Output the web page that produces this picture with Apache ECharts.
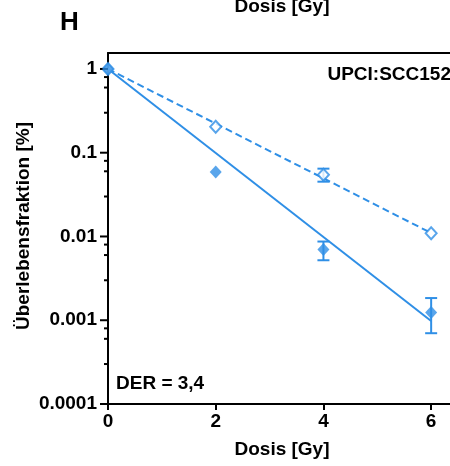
<!DOCTYPE html>
<html>
<head>
<meta charset="utf-8">
<script src="https://cdn.jsdelivr.net/npm/echarts@6/dist/echarts.min.js"></script>
<style>
  html, body { margin: 0; padding: 0; background: #fff; }
  #chart { width: 450px; height: 466px; }
</style>
</head>
<body>
<div id="chart"></div>
<script>
// Dose (Gy) and surviving fractions
const doses = [0, 2, 4, 6];
const survivalA = [1, 0.059, 0.0070, 0.00124];          // filled diamonds
const survivalAErrLow = [null, null, 0.0052, 0.00070];
const survivalAErrHigh = [null, null, 0.0087, 0.00184];
const survivalB = [1, 0.204, 0.0547, 0.0109];           // open diamonds
const survivalBErrLow = [null, null, 0.0451, null];
const survivalBErrHigh = [null, null, 0.0645, null];

// Fitted curves (start / end dose)
const fitDoses = [0, 6];
const fitA = [1, 0.00098];
const fitB = [1, 0.011];

// Axis ticks
const xTicks = [0, 2, 4, 6];
const majorTicks = [1, 0.1, 0.01, 0.001, 0.0001];
const minorFactors = [0.8, 0.6, 0.3];

const BLUE = '#2f8fe6';
const FONT = '"Liberation Sans", Arial, Helvetica, sans-serif';
const FS = 19;
const X_MAX = 6.35;

const pairs = (xs, ys) => xs.map((x, i) => [x, ys[i]]);
const errRows = (xs, lo, hi) => xs.map((x, i) => [x, lo[i], hi[i]]).filter(r => r[1] != null);

const minorTicks = [];
majorTicks.forEach(m => { if (m > 0.0001 + 1e-12) minorFactors.forEach(f => minorTicks.push(m * f)); });
const tickRows = majorTicks.map(v => [v, 8]).concat(minorTicks.map(v => [v, 4]));

function errorBar(params, api) {
  const x = api.value(0);
  const lo = api.coord([x, api.value(1)]);
  const hi = api.coord([x, api.value(2)]);
  const hw = 6;
  const style = { stroke: BLUE, lineWidth: 2, fill: null };
  return {
    type: 'group',
    children: [
      { type: 'line', shape: { x1: lo[0], y1: lo[1], x2: hi[0], y2: hi[1] }, style },
      { type: 'line', shape: { x1: lo[0] - hw, y1: lo[1], x2: lo[0] + hw, y2: lo[1] }, style },
      { type: 'line', shape: { x1: hi[0] - hw, y1: hi[1], x2: hi[0] + hw, y2: hi[1] }, style }
    ]
  };
}

function yTick(params, api) {
  const p = api.coord([0, api.value(0)]);
  const len = api.value(1);
  return {
    type: 'line',
    shape: { x1: p[0] - len, y1: p[1], x2: p[0], y2: p[1] },
    style: { stroke: '#000', lineWidth: 2 }
  };
}

const chart = echarts.init(document.getElementById('chart'), null, { renderer: 'canvas' });

chart.setOption({
  animation: false,
  backgroundColor: '#fff',
  grid: { left: 108, top: 53, right: 0, bottom: 62 },
  xAxis: [
    {
      type: 'value', min: 0, max: X_MAX, interval: 2,
      axisLine: { lineStyle: { color: '#000', width: 2 } },
      axisTick: { length: 6, customValues: xTicks, lineStyle: { color: '#000', width: 2 } },
      axisLabel: { color: '#000', fontFamily: FONT, fontWeight: 'bold', fontSize: FS, margin: 8, customValues: xTicks },
      splitLine: { show: false }
    },
    {
      // top frame line
      type: 'value', position: 'top', min: 0, max: X_MAX,
      axisLine: { show: true, lineStyle: { color: '#000', width: 2 } },
      axisTick: { show: false }, axisLabel: { show: false }, splitLine: { show: false }
    }
  ],
  yAxis: {
    type: 'log', logBase: 10, min: 0.0001, max: 1.55, interval: 1,
    axisLine: { lineStyle: { color: '#000', width: 2 } },
    axisTick: { show: false },
    axisLabel: {
      color: '#000', fontFamily: FONT, fontWeight: 'bold', fontSize: FS, margin: 11,
      showMaxLabel: false,
      formatter: v => {
        const e = Math.round(Math.log10(v));
        return e >= 0 ? '1' : Math.pow(10, e).toFixed(-e);
      }
    },
    splitLine: { show: false },
    minorSplitLine: { show: false }
  },
  graphic: [
    { type: 'text', left: 60, top: 10, style: { text: 'H', font: 'bold 26px ' + FONT, fill: '#000' } },
    { type: 'text', x: 282, y: -3, style: { text: 'Dosis [Gy]', font: 'bold ' + FS + 'px ' + FONT, fill: '#000', textAlign: 'center', textVerticalAlign: 'top' } },
    { type: 'text', x: 282, y: 440, style: { text: 'Dosis [Gy]', font: 'bold ' + FS + 'px ' + FONT, fill: '#000', textAlign: 'center', textVerticalAlign: 'top' } },
    { type: 'text', x: 24, y: 226, rotation: Math.PI / 2, style: { text: 'Überlebensfraktion [%]', font: 'bold ' + FS + 'px ' + FONT, fill: '#000', textAlign: 'center', textVerticalAlign: 'middle' } },
    { type: 'text', x: 451, y: 65, style: { text: 'UPCI:SCC152', font: 'bold ' + FS + 'px ' + FONT, fill: '#000', textAlign: 'right', textVerticalAlign: 'top' } },
    { type: 'text', x: 116, y: 374, style: { text: 'DER = 3,4', font: 'bold ' + FS + 'px ' + FONT, fill: '#000', textAlign: 'left', textVerticalAlign: 'top' } }
  ],
  series: [
    {
      type: 'custom', name: 'yTicks', coordinateSystem: 'cartesian2d',
      renderItem: yTick, data: tickRows, silent: true, clip: false, z: 5
    },
    {
      type: 'line', name: 'fitB', data: pairs(fitDoses, fitB), showSymbol: false,
      lineStyle: { color: BLUE, width: 2, type: [7, 4] }, z: 2
    },
    {
      type: 'line', name: 'fitA', data: pairs(fitDoses, fitA), showSymbol: false,
      lineStyle: { color: BLUE, width: 2 }, z: 2
    },
    {
      type: 'custom', name: 'errB', coordinateSystem: 'cartesian2d',
      renderItem: errorBar, data: errRows(doses, survivalBErrLow, survivalBErrHigh), z: 3
    },
    {
      type: 'custom', name: 'errA', coordinateSystem: 'cartesian2d',
      renderItem: errorBar, data: errRows(doses, survivalAErrLow, survivalAErrHigh), z: 3
    },
    {
      type: 'scatter', name: 'B', data: pairs(doses, survivalB),
      symbol: 'diamond', symbolSize: [11, 12],
      itemStyle: { color: '#fff', borderColor: BLUE, borderWidth: 2 }, z: 4
    },
    {
      type: 'scatter', name: 'A', data: pairs(doses, survivalA),
      symbol: 'diamond', symbolSize: [12, 13],
      itemStyle: { color: BLUE }, z: 6
    }
  ]
});
</script>
</body>
</html>
